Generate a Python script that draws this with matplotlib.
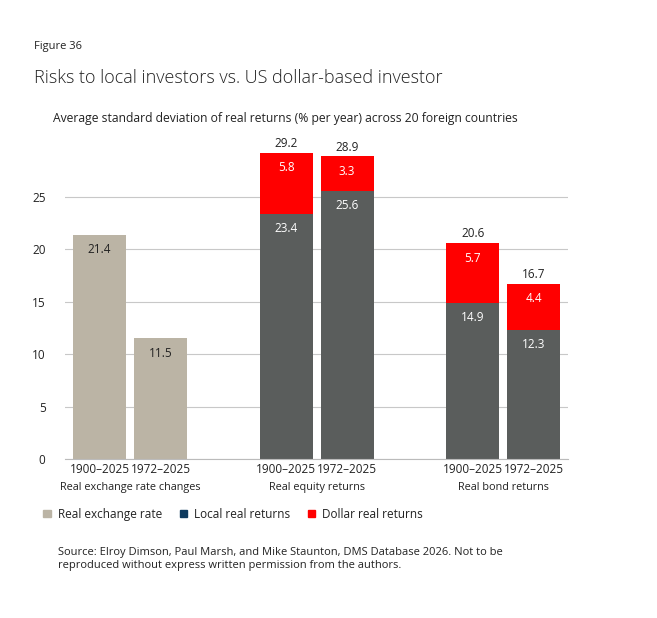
import matplotlib
matplotlib.use("Agg")
import matplotlib.pyplot as plt
from matplotlib.patches import Patch

plt.rcParams['font.family'] = ['Open Sans', 'DejaVu Sans']

# data
periods = ["1900–2025", "1972–2025"]
groups = ["Real exchange rate changes", "Real equity returns", "Real bond returns"]
fx_rate = [21.4, 11.5]
local_equity = [23.4, 25.6]
dollar_equity = [5.8, 3.3]
local_bond = [14.9, 12.3]
dollar_bond = [5.7, 4.4]

c_fx = "#bbb4a5"
c_local = "#5a5d5c"
c_dollar = "#ff0000"
c_legend_local = "#0e3a5e"
c_text = "#222222"

fig = plt.figure(figsize=(6.57, 6.18), dpi=100)
ax = fig.add_axes([0.0989, 0.2573, 0.7656, 0.5087])

gap = 3.06
w = 0.87
xs_fx = [0, 1]
xs_eq = [gap, gap + 1]
xs_bd = [2 * gap, 2 * gap + 1]

ax.bar(xs_fx, fx_rate, width=w, color=c_fx, zorder=2)
ax.bar(xs_eq, local_equity, width=w, color=c_local, zorder=2)
ax.bar(xs_eq, dollar_equity, width=w, bottom=local_equity, color=c_dollar, zorder=2)
ax.bar(xs_bd, local_bond, width=w, color=c_local, zorder=2)
ax.bar(xs_bd, dollar_bond, width=w, bottom=local_bond, color=c_dollar, zorder=2)

fs = 8.5
for x, v in zip(xs_fx, fx_rate):
    ax.text(x, v - 0.8, f"{v}", ha="center", va="top", fontsize=fs, color=c_text)
for xs, loc, dol in [(xs_eq, local_equity, dollar_equity), (xs_bd, local_bond, dollar_bond)]:
    for x, l, d in zip(xs, loc, dol):
        ax.text(x, l - 0.8, f"{l}", ha="center", va="top", fontsize=fs, color="white")
        ax.text(x, l + d - 0.8, f"{d}", ha="center", va="top", fontsize=fs, color="white")
        ax.text(x, l + d + 0.25, f"{round(l + d, 1)}", ha="center", va="bottom",
                fontsize=fs, color=c_text)

ax.set_xlim(-0.566, 7.68)
ax.set_ylim(0, 30)
ax.set_yticks([0, 5, 10, 15, 20, 25])
ax.yaxis.grid(True, color="#c8c8c8", linewidth=0.8, zorder=0)
ax.set_axisbelow(True)
for s in ["top", "right", "left"]:
    ax.spines[s].set_visible(False)
ax.spines["bottom"].set_color("#bbbbbb")
ax.tick_params(axis="y", length=0, pad=14, labelsize=fs, colors=c_text)

all_x = xs_fx + xs_eq + xs_bd
ax.set_xticks(all_x)
ax.set_xticklabels(periods * 3)
ax.tick_params(axis="x", length=0, pad=3, labelsize=fs, colors=c_text)

for xs, g in zip([xs_fx, xs_eq, xs_bd], groups):
    ax.annotate(g, xy=(sum(xs) / 2, 0), xycoords=("data", "axes fraction"),
                xytext=(0, -20.5), textcoords="offset points", ha="center", va="center",
                fontsize=7.8, color=c_text)

handles = [Patch(color=c_fx, label="Real exchange rate"),
           Patch(color=c_legend_local, label="Local real returns"),
           Patch(color=c_dollar, label="Dollar real returns")]
fig.legend(handles=handles, loc="center left", bbox_to_anchor=(0.05, 0.168), ncol=3,
           frameon=False, fontsize=8.5, handlelength=0.6, handleheight=0.6,
           handletextpad=0.6, columnspacing=1.5, labelcolor=c_text)

fig.text(34 / 657, 1 - 47 / 618, "Figure 36", fontsize=8, color=c_text, va="center")
fig.text(34 / 657, 1 - 78 / 618, "Risks to local investors vs. US dollar-based investor",
         fontsize=13.0, color=c_text, va="center", fontweight="light")
fig.text(53 / 657, 1 - 118 / 618,
         "Average standard deviation of real returns (% per year) across 20 foreign countries",
         fontsize=8.7, color=c_text, va="center")
fig.text(58 / 657, 1 - 559 / 618,
         "Source: Elroy Dimson, Paul Marsh, and Mike Staunton, DMS Database 2026. Not to be\n"
         "reproduced without express written permission from the authors.",
         fontsize=8, color=c_text, va="center", linespacing=1.3)

fig.savefig("out.png", dpi=100, facecolor="white")
